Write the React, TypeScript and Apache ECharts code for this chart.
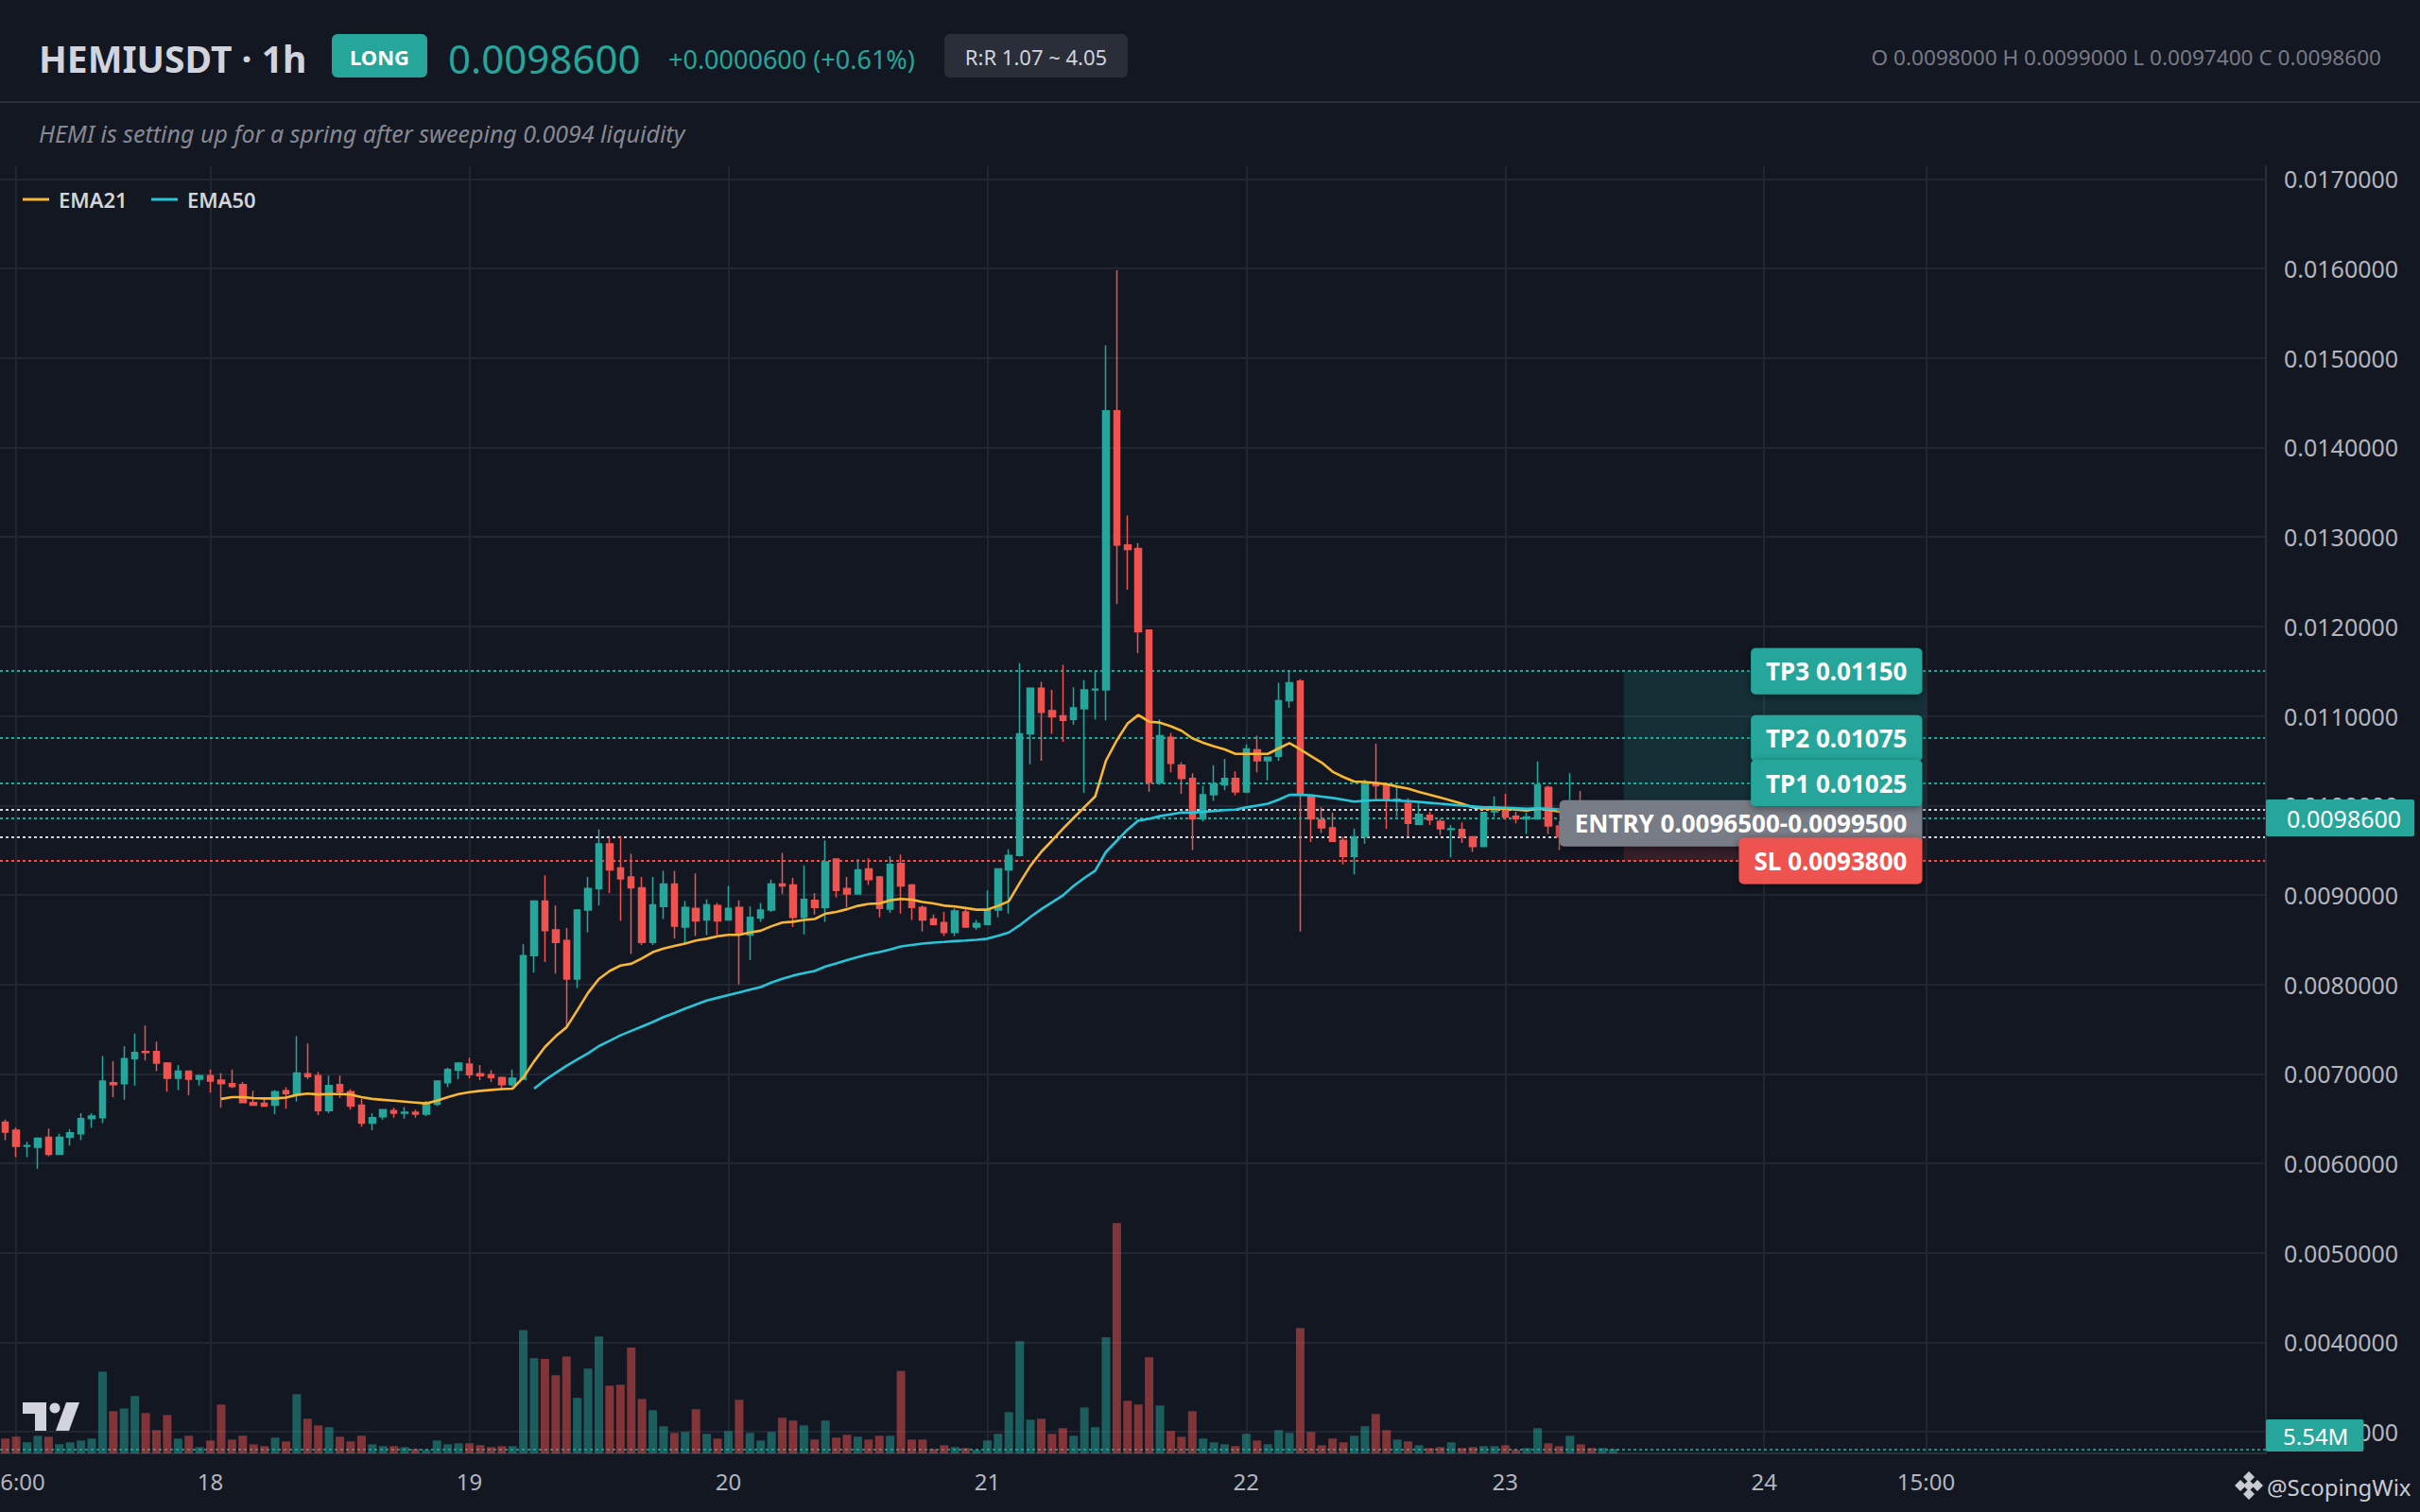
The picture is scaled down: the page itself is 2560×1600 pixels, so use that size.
import React, { useEffect, useRef } from "react";
import * as echarts from "echarts";

// ---------- data (hourly candles, 17th 05:00 -> 23rd 10:00) ----------
const FIRST_DAY = 17;
const FIRST_HOUR = 5;
const SLOT_COUNT = 210; // hourly slots incl. empty future space

const opens = [
  0.00646, 0.00637, 0.00619, 0.00618, 0.00629, 0.0061, 0.00629, 0.00633, 0.0065, 0.00651,
  0.0069, 0.00689, 0.00717, 0.00725, 0.00725, 0.00712, 0.00695, 0.00703, 0.00694, 0.00698,
  0.00693, 0.00689, 0.00688, 0.00668, 0.00667, 0.00665, 0.00681, 0.00677, 0.007, 0.00698,
  0.00659, 0.00688, 0.0068, 0.00665, 0.00645, 0.00652, 0.00659, 0.00656, 0.00657, 0.00655,
  0.00666, 0.0069, 0.00704, 0.00711, 0.007, 0.00699, 0.00696, 0.00688, 0.00694, 0.00832,
  0.00893, 0.00861, 0.00849, 0.00806, 0.00883, 0.00907, 0.00957, 0.0093, 0.0092, 0.00908,
  0.00847, 0.00887, 0.00912, 0.00864, 0.00885, 0.00872, 0.00888, 0.00872, 0.00886, 0.00855,
  0.00874, 0.00883, 0.00912, 0.00911, 0.00875, 0.00894, 0.00886, 0.0094, 0.00907, 0.00901,
  0.00929, 0.0092, 0.00884, 0.00935, 0.00911, 0.00886, 0.00873, 0.00869, 0.00858, 0.00881,
  0.00864, 0.00867, 0.00883, 0.00928, 0.00944, 0.0108, 0.01131, 0.01106, 0.011, 0.01096,
  0.01108, 0.01129, 0.01129, 0.01441, 0.01291, 0.01287, 0.01196, 0.01025, 0.01076, 0.01045,
  0.0103, 0.00985, 0.01012, 0.01023, 0.0103, 0.01015, 0.01062, 0.0105, 0.01055, 0.01117,
  0.01139, 0.0101, 0.00984, 0.00975, 0.00961, 0.00943, 0.00965, 0.01025, 0.01023, 0.01006,
  0.01002, 0.00979, 0.00989, 0.00982, 0.00973, 0.00973, 0.00965, 0.00954, 0.00993, 0.00995,
  0.00988, 0.00985, 0.00985, 0.0102, 0.00977, 0.00966, 0.0099, 0.00983, 0.00979, 0.0098,
];
const closes = [
  0.00635, 0.00619, 0.0062, 0.00628, 0.0061, 0.00629, 0.00634, 0.0065, 0.00653, 0.00692,
  0.00688, 0.00717, 0.00724, 0.00724, 0.00712, 0.00695, 0.00703, 0.00694, 0.00698, 0.00692,
  0.00689, 0.00686, 0.00668, 0.00665, 0.00664, 0.0068, 0.00678, 0.00701, 0.00697, 0.00659,
  0.00687, 0.0068, 0.00664, 0.00645, 0.00651, 0.0066, 0.00656, 0.00657, 0.00655, 0.00668,
  0.00692, 0.00705, 0.00712, 0.00699, 0.00698, 0.00696, 0.00688, 0.00695, 0.00832, 0.00893,
  0.0086, 0.00847, 0.00806, 0.00883, 0.00907, 0.00957, 0.00928, 0.00918, 0.00908, 0.00847,
  0.00889, 0.00912, 0.00865, 0.00886, 0.00871, 0.00889, 0.00871, 0.00885, 0.00857, 0.00875,
  0.00883, 0.00912, 0.0091, 0.00875, 0.00895, 0.00886, 0.00937, 0.00905, 0.00901, 0.00928,
  0.00917, 0.00885, 0.00934, 0.0091, 0.00886, 0.00872, 0.00867, 0.00858, 0.00882, 0.00864,
  0.00868, 0.00883, 0.00929, 0.00944, 0.0108, 0.01131, 0.01104, 0.01099, 0.01095, 0.01109,
  0.01129, 0.0113, 0.01441, 0.01291, 0.01286, 0.01194, 0.01026, 0.01078, 0.01047, 0.0103,
  0.00985, 0.01012, 0.01024, 0.0103, 0.01015, 0.01063, 0.0105, 0.01054, 0.01117, 0.01137,
  0.01012, 0.00985, 0.00975, 0.0096, 0.00943, 0.00965, 0.01025, 0.01022, 0.01007, 0.01007,
  0.0098, 0.0099, 0.00984, 0.00974, 0.00974, 0.00965, 0.00954, 0.00992, 0.00995, 0.00987,
  0.00985, 0.00987, 0.01023, 0.00977, 0.00965, 0.0099, 0.00982, 0.00979, 0.0098, 0.00986,
];
const highs = [
  0.00649, 0.0064, 0.00624, 0.00629, 0.00639, 0.00633, 0.00638, 0.00656, 0.00656, 0.0072,
  0.00714, 0.00731, 0.00745, 0.00754, 0.00736, 0.00713, 0.0071, 0.00703, 0.00699, 0.00705,
  0.00701, 0.00705, 0.00691, 0.00681, 0.00672, 0.00682, 0.00685, 0.00742, 0.00734, 0.00702,
  0.00698, 0.00698, 0.00683, 0.00672, 0.00656, 0.0066, 0.00662, 0.00663, 0.0066, 0.0067,
  0.00693, 0.00707, 0.00713, 0.00718, 0.0071, 0.00704, 0.00697, 0.00705, 0.00845, 0.00894,
  0.00922, 0.00888, 0.00863, 0.00884, 0.0092, 0.00973, 0.00964, 0.00966, 0.00946, 0.0092,
  0.0092, 0.00927, 0.00927, 0.00893, 0.00924, 0.00895, 0.00891, 0.0091, 0.00894, 0.00887,
  0.00891, 0.00917, 0.00947, 0.00919, 0.00933, 0.00902, 0.00961, 0.0094, 0.0092, 0.0094,
  0.00941, 0.00921, 0.00943, 0.00945, 0.00912, 0.00888, 0.00878, 0.00881, 0.00885, 0.00884,
  0.00872, 0.00905, 0.00929, 0.00951, 0.01159, 0.01131, 0.01138, 0.01129, 0.01157, 0.01132,
  0.0114, 0.0115, 0.01514, 0.01598, 0.01324, 0.01293, 0.01196, 0.01096, 0.01081, 0.01048,
  0.01036, 0.01022, 0.01045, 0.01052, 0.01038, 0.01068, 0.01078, 0.01054, 0.01137, 0.01151,
  0.01141, 0.01012, 0.00998, 0.00992, 0.00965, 0.00974, 0.01029, 0.01069, 0.01025, 0.01022,
  0.01008, 0.01002, 0.00993, 0.00985, 0.00978, 0.00981, 0.00965, 0.00993, 0.0101, 0.01013,
  0.00993, 0.00992, 0.01049, 0.01022, 0.00982, 0.01036, 0.01016, 0.00992, 0.00988, 0.0099,
];
const lows = [
  0.00626, 0.00607, 0.00607, 0.00594, 0.00608, 0.0061, 0.0062, 0.00626, 0.0064, 0.00645,
  0.00674, 0.00671, 0.00687, 0.00715, 0.00703, 0.0068, 0.00682, 0.00676, 0.00687, 0.00679,
  0.00662, 0.00684, 0.00668, 0.00665, 0.00664, 0.00655, 0.00661, 0.00669, 0.00694, 0.00654,
  0.00656, 0.00673, 0.0066, 0.00641, 0.00637, 0.00649, 0.00651, 0.0065, 0.00651, 0.00653,
  0.00664, 0.00685, 0.00694, 0.00695, 0.00693, 0.00691, 0.00683, 0.00686, 0.00693, 0.00813,
  0.00825, 0.00812, 0.00752, 0.00796, 0.00858, 0.00888, 0.00902, 0.00871, 0.00834, 0.00844,
  0.00844, 0.00873, 0.00851, 0.00846, 0.00854, 0.00855, 0.00855, 0.00872, 0.008, 0.00827,
  0.0087, 0.00881, 0.00901, 0.00864, 0.00856, 0.00878, 0.0087, 0.00897, 0.00886, 0.00901,
  0.00911, 0.00875, 0.0088, 0.00879, 0.00872, 0.00859, 0.00866, 0.00854, 0.00854, 0.00863,
  0.00861, 0.00867, 0.00875, 0.00879, 0.00943, 0.01046, 0.0105, 0.0108, 0.01071, 0.0109,
  0.01014, 0.01096, 0.01095, 0.01225, 0.01241, 0.0117, 0.01015, 0.01023, 0.01037, 0.01013,
  0.0095, 0.00982, 0.01005, 0.01017, 0.01011, 0.01014, 0.01037, 0.01028, 0.0105, 0.01109,
  0.00859, 0.00959, 0.00969, 0.00959, 0.00934, 0.00923, 0.00957, 0.01007, 0.00974, 0.00987,
  0.00965, 0.00979, 0.00978, 0.00967, 0.00942, 0.00958, 0.00948, 0.00954, 0.00987, 0.00984,
  0.0098, 0.00968, 0.00984, 0.00968, 0.0095, 0.0096, 0.00976, 0.00972, 0.00974, 0.00974,
];
// volume in millions
const volumes = [
  18.5, 20.8, 13.8, 22, 20.8, 11.4, 13.8, 16.1, 18.5, 102,
  52.7, 56.2, 71.6, 50.3, 29.1, 48, 18.5, 22, 7.9, 16.1,
  61, 17.3, 22, 11.4, 9.1, 19.7, 15, 74, 43.3, 35,
  32.7, 20.8, 15, 22, 11.4, 9.1, 9.1, 7.9, 5.5, 4.4,
  16.1, 11.4, 12.6, 12.6, 10.3, 7.9, 9.1, 9.1, 154, 119,
  118, 97.6, 121, 69.3, 106, 146, 84.6, 85.8, 132, 68,
  53.9, 33.9, 25.6, 26.8, 55.1, 24.4, 18.5, 28, 66.9, 25.6,
  16.1, 26.8, 44.5, 41, 35, 17.3, 41, 19.7, 23.2, 20.8,
  17.3, 22, 22, 103, 17.3, 17.3, 5.5, 10.2, 7.9, 6.7,
  4.4, 16.1, 24.4, 51.5, 140, 42.1, 43.3, 24.4, 31.5, 22,
  57.4, 32.7, 145, 287.5, 65.7, 61, 120, 59.8, 28, 20.8,
  52.7, 18.5, 13.8, 11.4, 9.1, 24.4, 16.1, 11.4, 29.1, 25.6,
  156.6, 26.8, 10.2, 18.5, 13.8, 22, 33.9, 49.2, 29.1, 17.3,
  15, 10.2, 6.7, 7.9, 13.8, 6.7, 7.9, 9.1, 9.1, 10.2,
  4.4, 6.7, 31.5, 12.6, 9.1, 22, 11.4, 6.7, 6.7, 5.54,
];
// EMA21, starts at candle #21
const EMA21_START = 20;
const ema21 = [
  0.00672, 0.00674, 0.00674, 0.00673, 0.006725, 0.006725, 0.006735, 0.006765, 0.00678, 0.00677,
  0.006775, 0.006775, 0.00677, 0.00674, 0.00672, 0.00671, 0.0067, 0.00669, 0.00668, 0.00667,
  0.0067, 0.00674, 0.006775, 0.006795, 0.00681, 0.00682, 0.00683, 0.006835, 0.00696, 0.00714,
  0.0073, 0.00742, 0.00752, 0.00771, 0.007905, 0.00806, 0.00815, 0.00821, 0.00823, 0.00829,
  0.00836, 0.0084, 0.00843, 0.008456, 0.00849, 0.00851, 0.008537, 0.008554, 0.008554, 0.00858,
  0.0086, 0.00865, 0.00869, 0.0087, 0.00872, 0.00873, 0.00879, 0.00881, 0.00884, 0.008877,
  0.0089, 0.008905, 0.00894, 0.008954, 0.008947, 0.00892, 0.008905, 0.00888, 0.00887, 0.008853,
  0.008835, 0.008835, 0.008877, 0.00893, 0.009133, 0.009326, 0.00948, 0.009607, 0.009737, 0.00986,
  0.00998, 0.0101, 0.0105, 0.010726, 0.010915, 0.01101, 0.010935, 0.010925, 0.010885, 0.010835,
  0.01075, 0.0107, 0.01066, 0.010626, 0.010576, 0.010576, 0.010576, 0.010576, 0.010636, 0.010696,
  0.010626, 0.01055, 0.010477, 0.010377, 0.010317, 0.010267, 0.010262, 0.01025, 0.010237, 0.01021,
  0.010187, 0.01015, 0.010118, 0.010088, 0.010053, 0.010018, 0.009978, 0.009963, 0.009963, 0.009963,
  0.009953, 0.009943, 0.009963, 0.009953, 0.009928, 0.00993, 0.00992, 0.009915, 0.00991, 0.009905,
];
// EMA50, starts at candle #50
const EMA50_START = 49;
const ema50 = [
  0.006834, 0.00693, 0.00701, 0.00709, 0.00716, 0.00723, 0.00731, 0.00737, 0.00743, 0.00748,
  0.00753, 0.00758, 0.007635, 0.00768, 0.00773, 0.007775, 0.00782, 0.00785, 0.00788, 0.00791,
  0.00794, 0.00797, 0.00802, 0.008063, 0.008098, 0.008125, 0.00815, 0.0082, 0.008235, 0.00827,
  0.008305, 0.008337, 0.00836, 0.00839, 0.008425, 0.00844, 0.008455, 0.008467, 0.008475, 0.008484,
  0.00849, 0.008498, 0.00851, 0.008544, 0.00858, 0.00866, 0.008754, 0.00884, 0.008916, 0.008993,
  0.0091, 0.00919, 0.00927, 0.00948, 0.009604, 0.009729, 0.00983, 0.00985, 0.00988, 0.0099,
  0.00992, 0.00992, 0.009928, 0.009938, 0.009948, 0.009953, 0.009978, 0.009998, 0.010018, 0.010063,
  0.010118, 0.010118, 0.010113, 0.010098, 0.010083, 0.010063, 0.010043, 0.010053, 0.010058, 0.010058,
  0.010053, 0.010048, 0.010038, 0.010028, 0.010018, 0.010008, 0.009998, 0.009988, 0.009978, 0.009978,
  0.009973, 0.009968, 0.009963, 0.009968, 0.009963, 0.009958, 0.009955, 0.009955, 0.00995, 0.00995, 0.00995,
];

// price axis ticks
const priceTicks = [
  0.003, 0.004, 0.005, 0.006, 0.007, 0.008, 0.009, 0.01, 0.011, 0.012, 0.013, 0.014, 0.015, 0.016, 0.017,
];
// time axis tick categories and their texts
const tickCats = ["17 06:00", "18 00:00", "19 00:00", "20 00:00", "21 00:00", "22 00:00", "23 00:00", "24 00:00", "24 15:00"];
const tickTexts = ["06:00", "18", "19", "20", "21", "22", "23", "24", "15:00"];

// trade plan levels
const TP3 = 0.0115;
const TP2 = 0.01075;
const TP1 = 0.01025;
const ENTRY_LOW = 0.00965;
const ENTRY_HIGH = 0.00995;
const STOP = 0.00938;
const LAST_PRICE = 0.00986;
const LAST_VOLUME = 5.54;
const ZONE_FROM = "23 11:00";
const ZONE_TO = "24 15:00";

const UP = "#26a69a";
const DOWN = "#ef5350";
const BG = "#131722";
const GRID = "#222632";
const FONT = '"Noto Sans", "Open Sans", sans-serif';

function buildCategories(): string[] {
  const out: string[] = [];
  for (let i = 0; i < SLOT_COUNT; i++) {
    const t = FIRST_HOUR + i;
    const day = FIRST_DAY + Math.floor(t / 24);
    const hr = t % 24;
    out.push(`${day} ${hr < 10 ? "0" + hr : hr}:00`);
  }
  return out;
}

export default function App() {
  const ref = useRef<HTMLDivElement>(null);

  useEffect(() => {
    if (!ref.current) return;
    const chart = echarts.init(ref.current, null, { renderer: "svg" });
    const cats = buildCategories();

    const candleData = opens.map((o, i) => [o, closes[i], lows[i], highs[i]]);
    const volData = volumes.map((v, i) => ({
      value: v,
      itemStyle: { color: closes[i] >= opens[i] ? "rgba(38,166,154,0.5)" : "rgba(239,83,80,0.5)" },
    }));
    const ema21Data: (number | null)[] = [];
    for (let i = 0; i < EMA21_START; i++) ema21Data.push(null);
    ema21.forEach((v) => ema21Data.push(v));
    const ema50Data: (number | null)[] = [];
    for (let i = 0; i < EMA50_START; i++) ema50Data.push(null);
    ema50.forEach((v) => ema50Data.push(v));

    const dotted = (color: string) => ({ color, width: 2, type: [3, 3] as any });
    const solidGrid = { color: GRID, width: 2, type: "solid" };

    const option: any = {
      animation: false,
      backgroundColor: BG,
      textStyle: { fontFamily: FONT },
      grid: {
        left: 0,
        right: 163,
        top: 176,
        bottom: 62,
        containLabel: false,
        outerBoundsMode: "none",
      },
      xAxis: {
        type: "category",
        data: cats,
        boundaryGap: true,
        axisLine: { show: true, lineStyle: { color: "#2a2e39", width: 2 } },
        axisTick: { show: false },
        splitLine: { show: false },
        axisLabel: {
          interval: (_idx: number, val: string) => tickCats.indexOf(val) >= 0,
          formatter: (val: string) => {
            const k = tickCats.indexOf(val);
            return k >= 0 ? tickTexts[k] : "";
          },
          color: "#b2b5be",
          fontSize: 24,
          margin: 17,
          fontFamily: FONT,
          hideOverlap: false,
        },
      },
      yAxis: [
        {
          type: "value",
          position: "right",
          min: 0.002759,
          max: 0.017141,
          scale: true,
          axisLine: { show: true, lineStyle: { color: "#2a2e39", width: 2 } },
          axisTick: { show: false, customValues: priceTicks },
          splitLine: { show: false },
          axisLabel: {
            customValues: priceTicks,
            formatter: (v: number) => v.toFixed(7),
            color: "#b2b5be",
            fontSize: 25,
            margin: 19,
            fontFamily: FONT,
          },
        },
        {
          type: "value",
          min: 0,
          max: 1607,
          show: false,
          splitLine: { show: false },
        },
      ],
      series: [
        {
          name: "zones",
          type: "line",
          data: [],
          z: 1,
          silent: true,
          markArea: {
            silent: true,
            z: 1,
            data: [
              [
                { xAxis: ZONE_FROM, yAxis: ENTRY_HIGH, itemStyle: { color: "rgba(38,166,154,0.17)" } },
                { xAxis: ZONE_TO, yAxis: TP3 },
              ],
              [
                { xAxis: ZONE_FROM, yAxis: STOP, itemStyle: { color: "rgba(239,83,80,0.16)" } },
                { xAxis: ZONE_TO, yAxis: ENTRY_LOW },
              ],
            ],
          },
        },
        {
          name: "Volume",
          type: "bar",
          yAxisIndex: 1,
          data: volData,
          barWidth: 9,
          z: 2,
          silent: true,
          markLine: {
            z: 2,
            silent: true,
            precision: 4,
            symbol: ["none", "none"],
            label: { show: false },
            data: [{ yAxis: LAST_VOLUME, lineStyle: dotted("rgba(38,166,154,0.8)") }],
          },
        },
        {
          name: "HEMIUSDT",
          type: "candlestick",
          data: candleData,
          barWidth: 7,
          z: 4,
          silent: true,
          itemStyle: {
            color: UP,
            color0: DOWN,
            borderColor: UP,
            borderColor0: DOWN,
            borderWidth: 1.5,
          },
          markLine: {
            z: 0,
            silent: true,
            precision: 8,
            symbol: ["none", "none"],
            label: { show: false },
            data: [
              ...priceTicks.map((v) => ({ yAxis: v, lineStyle: solidGrid })),
              ...tickCats.map((c) => ({ xAxis: c, lineStyle: solidGrid })),
              { yAxis: TP3, lineStyle: dotted(UP) },
              { yAxis: TP2, lineStyle: dotted(UP) },
              { yAxis: TP1, lineStyle: dotted(UP) },
              { yAxis: ENTRY_HIGH, lineStyle: dotted("#d1d4dc") },
              { yAxis: ENTRY_LOW, lineStyle: dotted("#d1d4dc") },
              { yAxis: LAST_PRICE, lineStyle: dotted(UP) },
              { yAxis: STOP, lineStyle: dotted(DOWN) },
            ],
          },
        },
        {
          name: "EMA21",
          type: "line",
          data: ema21Data,
          z: 5,
          symbol: "none",
          silent: true,
          lineStyle: { color: "#f7b731", width: 2.6 },
        },
        {
          name: "EMA50",
          type: "line",
          data: ema50Data,
          z: 5,
          symbol: "none",
          silent: true,
          lineStyle: { color: "#26c6da", width: 2.6 },
        },
      ],
    };

    chart.setOption(option);

    const yPix = (v: number) => chart.convertToPixel({ yAxisIndex: 0 } as any, v) as number;
    const xPix = (c: string) => chart.convertToPixel({ xAxisIndex: 0 } as any, c) as number;
    const labelRight = xPix(ZONE_TO) - 4;

    const tag = (id: string, text: string, y: number, bg: string, z: number) => ({
      type: "text",
      id,
      z,
      x: labelRight,
      y,
      style: {
        text,
        fill: "#ffffff",
        fontSize: 26,
        fontWeight: "bold",
        fontFamily: FONT,
        lineHeight: 27,
        align: "right",
        verticalAlign: "middle",
        backgroundColor: bg,
        padding: [11, 16, 11, 16],
        borderRadius: 5,
        shadowBlur: 8,
        shadowColor: "rgba(0,0,0,0.45)",
        shadowOffsetY: 2,
      },
    });

    const axisX = 2397;
    const graphics: any[] = [
      // header
      {
        type: "text", id: "title", z: 50, x: 41, y: 61,
        style: { text: "HEMIUSDT · 1h", fill: "#d1d4dc", fontSize: 39, fontWeight: "bold", fontFamily: FONT, verticalAlign: "middle" },
      },
      {
        type: "rect", id: "longbg", z: 50, shape: { x: 351, y: 36, width: 101, height: 46, r: 6 },
        style: { fill: UP },
      },
      {
        type: "text", id: "long", z: 51, x: 401.5, y: 60,
        style: { text: "LONG", fill: "#ffffff", fontSize: 22, fontWeight: "bold", fontFamily: FONT, align: "center", verticalAlign: "middle" },
      },
      {
        type: "text", id: "price", z: 50, x: 474, y: 61,
        style: { text: "0.0098600", fill: UP, fontSize: 42, fontFamily: FONT, verticalAlign: "middle" },
      },
      {
        type: "text", id: "chg", z: 50, x: 707, y: 62,
        style: { text: "+0.0000600 (+0.61%)", fill: UP, fontSize: 27, fontFamily: FONT, verticalAlign: "middle" },
      },
      {
        type: "rect", id: "rrbg", z: 50, shape: { x: 999, y: 36, width: 194, height: 46, r: 6 },
        style: { fill: "#2a2e39" },
      },
      {
        type: "text", id: "rr", z: 51, x: 1096, y: 60,
        style: { text: "R:R 1.07 ~ 4.05", fill: "#d1d4dc", fontSize: 22, fontFamily: FONT, align: "center", verticalAlign: "middle" },
      },
      {
        type: "text", id: "ohlc", z: 50, x: 2519, y: 60,
        style: { text: "O 0.0098000 H 0.0099000 L 0.0097400 C 0.0098600", fill: "#787b86", fontSize: 22.6, fontFamily: FONT, align: "right", verticalAlign: "middle" },
      },
      {
        type: "line", id: "sep", z: 50, shape: { x1: 0, y1: 108, x2: 2560, y2: 108 },
        style: { stroke: "#2a2e39", lineWidth: 2 },
      },
      {
        type: "text", id: "sub", z: 50, x: 41, y: 141,
        style: { text: "HEMI is setting up for a spring after sweeping 0.0094 liquidity", fill: "#868993", fontSize: 25, fontStyle: "italic", fontFamily: FONT, verticalAlign: "middle" },
      },
      // legend
      { type: "line", id: "lg1", z: 50, shape: { x1: 24, y1: 211, x2: 52, y2: 211 }, style: { stroke: "#f7b731", lineWidth: 3 } },
      {
        type: "text", id: "lg1t", z: 50, x: 62, y: 211,
        style: { text: "EMA21", fill: "#d1d4dc", fontSize: 22, fontWeight: 600, fontFamily: FONT, verticalAlign: "middle" },
      },
      { type: "line", id: "lg2", z: 50, shape: { x1: 160, y1: 211, x2: 188, y2: 211 }, style: { stroke: "#26c6da", lineWidth: 3 } },
      {
        type: "text", id: "lg2t", z: 50, x: 198, y: 211,
        style: { text: "EMA50", fill: "#d1d4dc", fontSize: 22, fontWeight: 600, fontFamily: FONT, verticalAlign: "middle" },
      },
      // trade tags
      tag("tEntry", "ENTRY 0.0096500-0.0099500", yPix((ENTRY_LOW + ENTRY_HIGH) / 2), "#787b86", 60),
      tag("tTp3", "TP3 0.01150", yPix(TP3), UP, 61),
      tag("tTp2", "TP2 0.01075", yPix(TP2), UP, 62),
      tag("tTp1", "TP1 0.01025", yPix(TP1), UP, 63),
      tag("tSl", "SL 0.0093800", yPix(STOP), DOWN, 64),
      // last price on axis
      {
        type: "text", id: "lastPx", z: 70, x: axisX, y: yPix(LAST_PRICE),
        style: {
          text: "0.0098600", fill: "#ffffff", fontSize: 25, fontFamily: FONT, lineHeight: 27,
          align: "left", verticalAlign: "middle", backgroundColor: UP, padding: [6, 14, 6, 22], borderRadius: 2,
        },
      },
      // last volume tag
      {
        type: "text", id: "lastVol", z: 70, x: axisX, y: 1519,
        style: {
          text: "5.54M", fill: "#ffffff", fontSize: 24, fontFamily: FONT, lineHeight: 24,
          align: "left", verticalAlign: "middle", backgroundColor: UP, padding: [5, 16, 5, 18], borderRadius: 2,
        },
      },
      // TradingView logo
      {
        type: "polygon", id: "tv1", z: 55,
        shape: { points: [[24, 1484], [49, 1484], [49, 1514], [37, 1514], [37, 1496], [24, 1496]] },
        style: { fill: "#d1d4dc" },
      },
      { type: "circle", id: "tv2", z: 55, shape: { cx: 58, cy: 1490, r: 5.5 }, style: { fill: "#d1d4dc" } },
      {
        type: "polygon", id: "tv3", z: 55,
        shape: { points: [[70, 1484], [84, 1484], [73, 1514], [59, 1514]] },
        style: { fill: "#d1d4dc" },
      },
      // watermark
      ...[[0, 0], [-9, 0], [9, 0], [0, -9], [0, 9]].map((d, k) => ({
        type: "polygon", id: "bn" + k, z: 55,
        shape: {
          points: [
            [2379 + d[0], 1566 + d[1]], [2385 + d[0], 1572 + d[1]], [2379 + d[0], 1578 + d[1]], [2373 + d[0], 1572 + d[1]],
          ],
        },
        style: { fill: "#c9cbd2" },
      })),
      {
        type: "text", id: "wm", z: 55, x: 2398, y: 1573,
        style: { text: "@ScopingWix", fill: "#c9cbd2", fontSize: 24, fontFamily: FONT, verticalAlign: "middle" },
      },
    ];

    chart.setOption({ graphic: graphics });

    return () => {
      chart.dispose();
    };
  }, []);

  return (
    <div
      ref={ref}
      style={{ position: "fixed", left: 0, top: 0, width: 2560, height: 1600, background: BG }}
    />
  );
}
